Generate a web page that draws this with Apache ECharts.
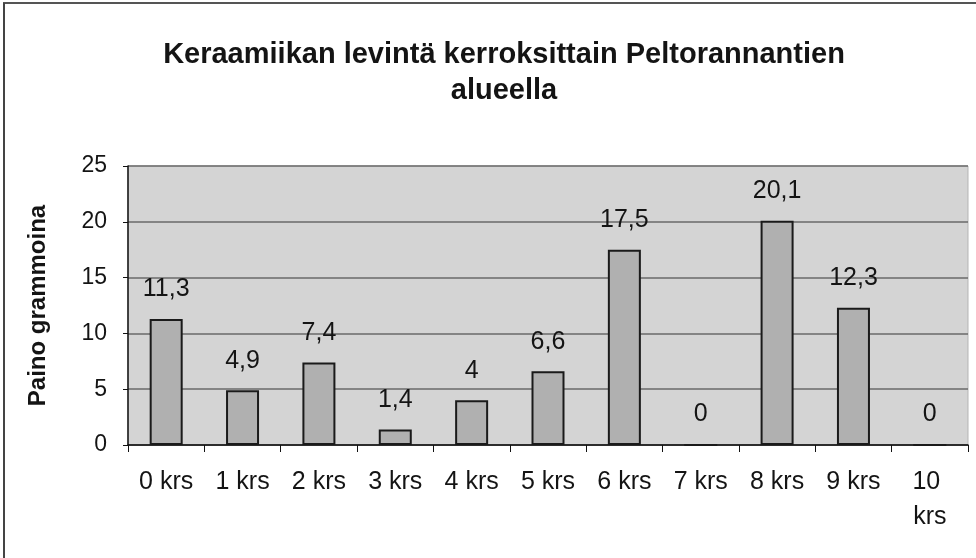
<!DOCTYPE html>
<html>
<head>
<meta charset="utf-8">
<script src="https://cdn.jsdelivr.net/npm/echarts@6/dist/echarts.min.js"></script>
<style>
html,body{margin:0;padding:0;background:#fff;}
#c{width:976px;height:558px;}
</style>
</head>
<body>
<div id="c"></div>
<script>
const categories = ["0 krs","1 krs","2 krs","3 krs","4 krs","5 krs","6 krs","7 krs","8 krs","9 krs","10 krs"];
const weights = [11.3, 4.9, 7.4, 1.4, 4, 6.6, 17.5, 0, 20.1, 12.3, 0];
const yTicks = [0, 5, 10, 15, 20, 25];
const titleText = "Keraamiikan levintä kerroksittain Peltorannantien\nalueella";
const yName = "Paino grammoina";

const chart = echarts.init(document.getElementById('c'));
const font = 'Liberation Sans, Arial, sans-serif';
chart.setOption({
  backgroundColor: '#ffffff',
  animation: false,
  title: {
    text: titleText,
    left: 499,
    top: 32,
    textAlign: 'center',
    textStyle: { fontFamily: font, fontSize: 29, fontWeight: 'bold', color: '#141414', lineHeight: 36 }
  },
  graphic: [
    { type: 'line', shape: { x1: 3, y1: 3, x2: 976, y2: 3 }, style: { stroke: '#555', lineWidth: 2 } },
    { type: 'line', shape: { x1: 4, y1: 3, x2: 4, y2: 558 }, style: { stroke: '#444', lineWidth: 2 } }
  ],
  grid: {
    left: 128, right: 8, top: 166, bottom: 113,
    show: true, backgroundColor: '#d4d4d4', borderColor: '#b5b5b5', borderWidth: 1
  },
  xAxis: {
    type: 'category',
    data: categories,
    axisLine: { show: true, lineStyle: { color: '#111', width: 1.5 } },
    axisTick: { show: true, length: 7, lineStyle: { color: '#111', width: 1 } },
    axisLabel: {
      fontFamily: font, fontSize: 25, color: '#141414', margin: 20, lineHeight: 35,
      width: 62, overflow: 'break', align: 'center', interval: 0
    }
  },
  yAxis: {
    type: 'value',
    min: yTicks[0], max: yTicks[yTicks.length - 1], interval: 5,
    name: yName,
    nameLocation: 'middle',
    nameGap: 78,
    nameTextStyle: { fontFamily: font, fontSize: 24, fontWeight: 'bold', color: '#141414' },
    axisLine: { show: true, lineStyle: { color: '#111', width: 1.5 } },
    axisTick: { show: true, length: 5, lineStyle: { color: '#111' } },
    axisLabel: { fontFamily: font, fontSize: 23, color: '#141414', margin: 21,
      formatter: v => String(v) },
    splitLine: { show: true, lineStyle: { color: '#6a6a6a', width: 1.5 } }
  },
  series: [{
    type: 'bar',
    data: weights,
    barWidth: 33,
    itemStyle: { color: '#b0b0b0', borderColor: '#1a1a1a', borderWidth: 2 },
    label: {
      show: true, position: 'top', distance: 17,
      fontFamily: font, fontSize: 25, color: '#141414',
      formatter: p => String(p.value).replace('.', ',')
    }
  }]
});
</script>
</body>
</html>
